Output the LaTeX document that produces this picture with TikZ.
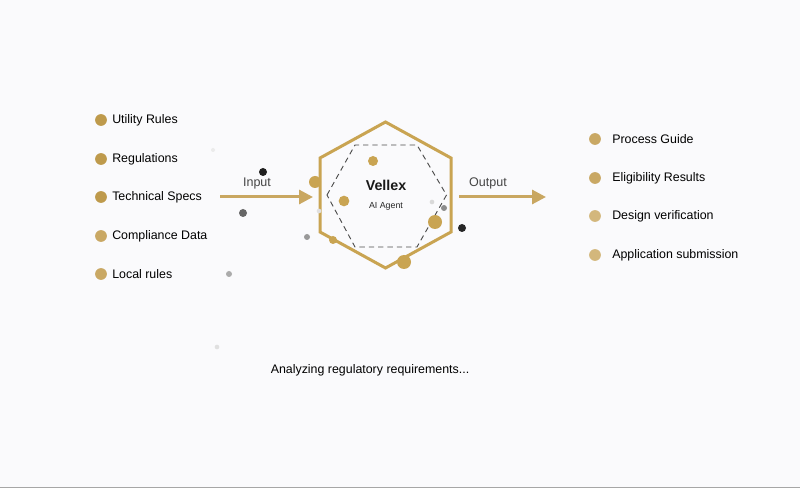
\documentclass[tikz,border=0pt]{standalone}
\usepackage{fontspec}
\setmainfont{Liberation Sans}
\usetikzlibrary{arrows.meta}
\definecolor{bgc}{HTML}{FAFAFC}
\definecolor{golddark}{HTML}{BE9A4C}
\definecolor{goldmid}{HTML}{C9A864}
\definecolor{goldlight}{HTML}{D3B77C}
\definecolor{hexgold}{HTML}{C9A452}
\definecolor{arrowgold}{HTML}{C9A761}
\definecolor{labelgray}{HTML}{444444}
\tikzset{
  bullet/.style={circle,inner sep=0pt,minimum size=8.8pt},
  itemtext/.style={anchor=west,inner sep=0pt,font=\fontsize{9.3}{11}\selectfont,text=black},
  flowarrow/.style={draw=arrowgold,line width=2.25pt,-{Triangle[length=10.5pt,width=10.5pt]}},
  flowlabel/.style={font=\fontsize{9.4}{11}\selectfont,text=labelgray,inner sep=0pt},
  dot/.style={circle,inner sep=0pt,draw=none}
}
\begin{document}
\begin{tikzpicture}[x=0.75pt,y=-0.75pt]
\fill[bgc] (0,0) rectangle (800,488);
\useasboundingbox (0,0) rectangle (800,488);
\draw[gray!70,line width=1.2pt] (0,487.3) -- (800,487.3);

% left inputs
\node[bullet,fill=golddark] (b1) at (101,120) {};
\node[itemtext] (t1) at (112,120.5) {Utility Rules};
\node[bullet,fill=golddark] (b2) at (101,159) {};
\node[itemtext] (t2) at (112,159.5) {Regulations};
\node[bullet,fill=golddark] (b3) at (101,197) {};
\node[itemtext] (t3) at (112,197.5) {Technical Specs};
\node[bullet,fill=goldmid] (b4) at (101,236) {};
\node[itemtext] (t4) at (112,236.5) {Compliance Data};
\node[bullet,fill=goldmid] (b5) at (101,274) {};
\node[itemtext] (t5) at (112,274.5) {Local rules};

% right outputs
\node[bullet,fill=goldmid] (o1) at (595,139) {};
\node[itemtext] (u1) at (612,139.5) {Process Guide};
\node[bullet,fill=goldmid] (o2) at (595,178) {};
\node[itemtext] (u2) at (612,178.5) {Eligibility Results};
\node[bullet,fill=goldlight] (o3) at (595,216) {};
\node[itemtext] (u3) at (612,216.5) {Design verification};
\node[bullet,fill=goldlight] (o4) at (595,255) {};
\node[itemtext] (u4) at (612,255.5) {Application submission};

% hexagons
\draw[hexgold,line width=2.25pt,line join=miter]
  (385.5,122) -- (320,158) -- (320,232) -- (385.5,268) -- (451,232) -- (451,158) -- cycle;
\draw[black!70,line width=0.7pt,dash pattern=on 4pt off 3pt]
  (327,195) -- (355,145) -- (417,145) -- (446.5,195) -- (417,247) -- (355,247) -- cycle;

\node[inner sep=0pt,font=\bfseries\fontsize{10.7}{12}\selectfont,text=black!90] (agent) at (386,185.5) {Vellex};
\node[inner sep=0pt,font=\fontsize{6.6}{8}\selectfont,text=black!85] (agentsub) at (386,206) {AI Agent};

% arrows
\coordinate (inS) at (220,197);
\coordinate (inE) at (313,197);
\coordinate (outS) at (459,197);
\coordinate (outE) at (546,197);
\draw[flowarrow] (inS) -- (inE);
\draw[flowarrow] (outS) -- (outE);
\node[flowlabel] (inl) at (257,183.5) {Input};
\node[flowlabel] (outl) at (488,183.5) {Output};

% particles
\node[dot,fill=black!8,minimum size=3pt] (p1) at (213,150) {};
\node[dot,fill=black!88,minimum size=6pt] (p2) at (263,172) {};
\node[dot,fill=black!60,minimum size=6pt] (p3) at (243,213) {};
\node[dot,fill=black!40,minimum size=4.5pt] (p4) at (307,237) {};
\node[dot,fill=black!33,minimum size=4.5pt] (p5) at (229,274) {};
\node[dot,fill=black!12,minimum size=3.5pt] (p6) at (217,347) {};
\node[dot,fill=hexgold,minimum size=9pt] (p7) at (315,182) {};
\node[dot,fill=hexgold,minimum size=7.5pt] (p8) at (373,161) {};
\node[dot,fill=hexgold,minimum size=8pt] (p9) at (344,201) {};
\node[dot,fill=hexgold,minimum size=6pt] (p10) at (333,240) {};
\node[dot,fill=black!12,minimum size=3.5pt] (p11) at (319,211) {};
\node[dot,fill=black!15,minimum size=3.5pt] (p12) at (432,202) {};
\node[dot,fill=black!45,minimum size=4.5pt] (p13) at (444,208) {};
\node[dot,fill=hexgold,minimum size=10.5pt] (p14) at (435,222) {};
\node[dot,fill=hexgold,minimum size=10.5pt] (p15) at (404,262) {};
\node[dot,fill=black!85,minimum size=6pt] (p16) at (462,228) {};

\node[inner sep=0pt,font=\fontsize{9.3}{11}\selectfont,text=black] (status) at (370,370) {Analyzing regulatory requirements...};
\end{tikzpicture}
\end{document}
